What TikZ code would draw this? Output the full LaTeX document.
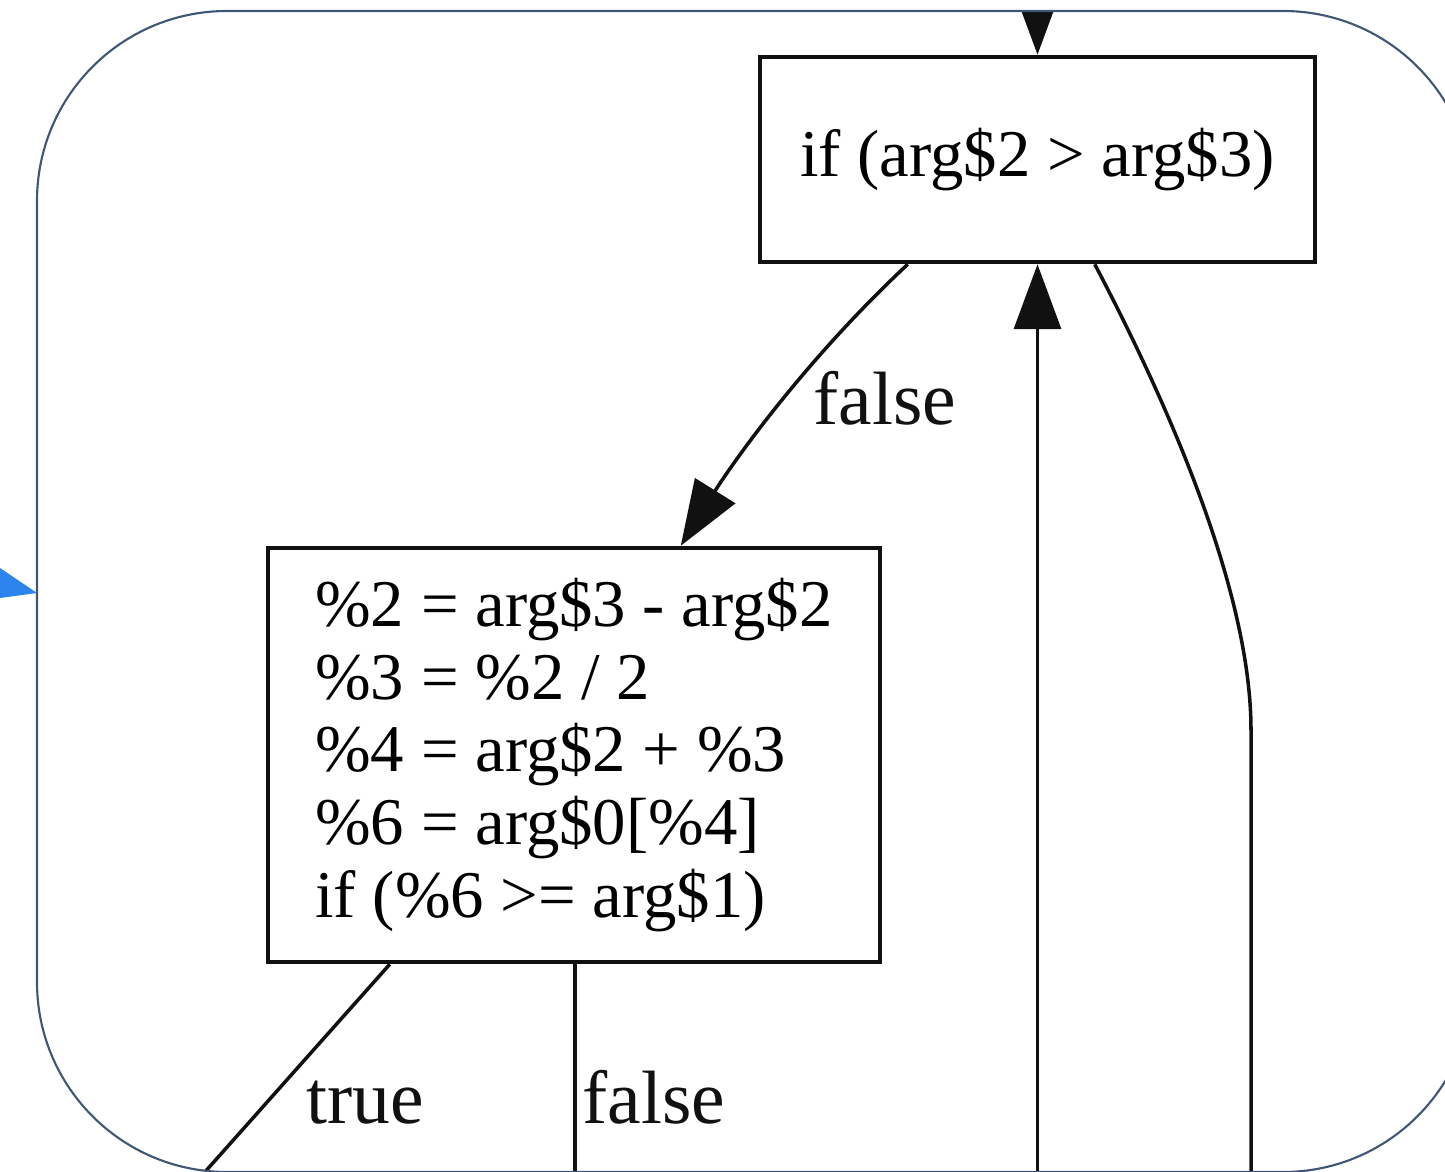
\documentclass[tikz,border=0pt]{standalone}
\usepackage{fontspec}
\setmainfont{Liberation Serif}
\usetikzlibrary{arrows.meta, calc}
\definecolor{frame}{HTML}{3F5674}
\definecolor{entry}{HTML}{2A84EC}
\definecolor{ink}  {HTML}{111111}

\tikzset{
  block/.style={draw=ink, line width=2.6pt, inner sep=0pt,
    font=\fontsize{38}{41.3}\selectfont},
  flow/.style={draw=ink, line width=2pt},
  tip/.style={-{Triangle[length=1.3cm, width=0.94cm]}},
  guard/.style={text=ink, inner sep=0pt, font=\fontsize{43}{46}\selectfont},
}

\begin{document}
\begin{tikzpicture}[x=0.02cm, y=-0.02cm]
    \useasboundingbox (0,0) rectangle (1445,1172);
    \fill[entry] (0,568) -- (37,593) -- (0,598) -- cycle;

    \begin{scope}
      \clip[rounded corners=3.8cm] (37,11) rectangle (1473,1172);
      \node[block, minimum width=11.1cm, minimum height=4.1cm] (cmp) at (1037.5,159.5)
        {if (arg\$2 > arg\$3)};
      \node[block, minimum width=12.24cm, minimum height=8.28cm, align=left] (mid) at (574,755)
        {\%2 = arg\$3 - arg\$2\\ \%3 = \%2 / 2\\ \%4 = arg\$2 + \%3\\
         \%6 = arg\$0[\%4]\\ if (\%6 >= arg\$1)};

      \coordinate (from) at (1037.5,-40);
      \coordinate (back) at (1037.5,1200);
      \coordinate (exit) at (1251,1200);
      \coordinate (hit)  at (180,1200);
      \coordinate (miss) at (575,1200);

      \draw[flow, tip] (from) -- (cmp.north);
      \draw[flow, tip] (back) -- (cmp.south);
      \draw[flow, tip] ($(cmp.south west)+(150,0)$) .. controls +(-105,98) and ($(mid.north west)+(465,-80)$)
        .. ($(mid.north west)+(415,0)$);
      \draw[flow] ($(cmp.south west)+(337,0)$) .. controls +(83,158) and ($(exit)+(0,-600)$)
        .. ($(exit)+(0,-470)$) -- (exit);
      \draw[flow] ($(mid.south west)+(124,0)$) -- (hit);
      \draw[flow] (mid.south -| miss) -- (miss);

      \node[guard, anchor=base west] (nolbl)   at (813,425)  {false};
      \node[guard, anchor=base west] (yeslbl)  at (306,1123) {true};
      \node[guard, anchor=base west] (misslbl) at (582,1123) {false};
    \end{scope}

    \draw[frame, line width=1.2pt, rounded corners=3.8cm] (37,11) rectangle (1473,1172);
  \end{tikzpicture}
\end{document}
